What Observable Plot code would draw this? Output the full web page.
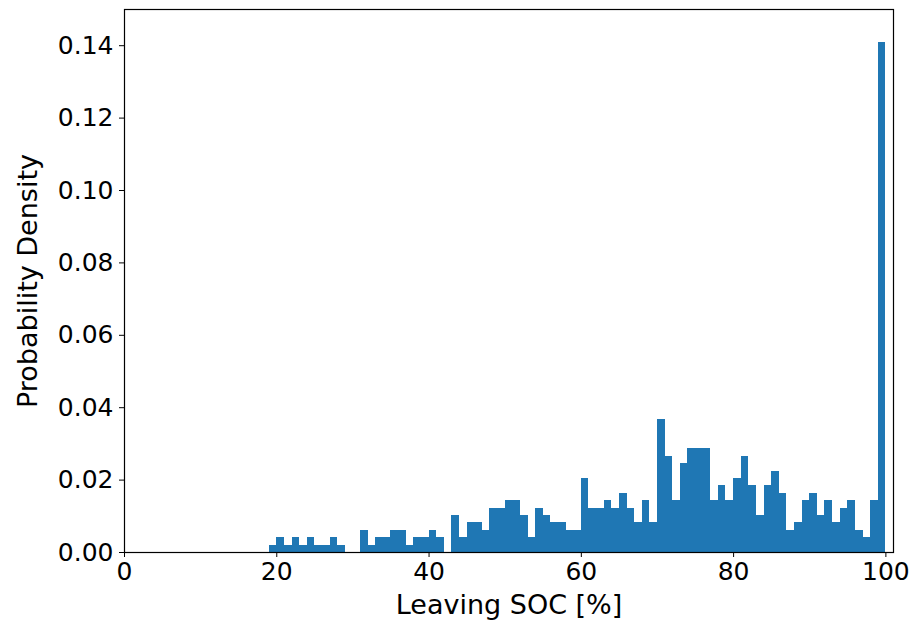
<!DOCTYPE html>
<html>
<head>
<meta charset="utf-8">
<script src="https://cdn.jsdelivr.net/npm/d3@7"></script>
<script src="https://cdn.jsdelivr.net/npm/@observablehq/plot@0.6"></script>
<style>
  html, body { margin: 0; padding: 0; background: #fff; }
  #chart svg { display: block; }
</style>
</head>
<body>
<div id="chart"></div>
<script>
// Histogram bins (lower edge of each 1-unit-wide bin, Leaving SOC in %)
const binStart = [19,20,21,22,23,24,25,26,27,28,29,30,31,32,33,34,35,36,37,38,39,40,
  41,42,43,44,45,46,47,48,49,50,51,52,53,54,55,56,57,58,59,60,61,62,63,64,65,66,67,68,
  69,70,71,72,73,74,75,76,77,78,79,80,81,82,83,84,85,86,87,88,89,90,91,92,93,94,95,96,
  97,98,99];
const binWidth = 1;
// Probability density of each bin
const density = [
  0.0020,0.0041,0.0020,0.0041,0.0020,0.0041,0.0020,0.0020,0.0041,0.0020, // 19-28
  0.0000,0.0000,0.0061,0.0020,0.0041,0.0041,0.0061,0.0061,0.0020,0.0041, // 29-38
  0.0041,0.0061,0.0041,0.0000,0.0102,0.0041,0.0082,0.0082,0.0061,0.0122, // 39-48
  0.0122,0.0143,0.0143,0.0102,0.0041,0.0122,0.0102,0.0082,0.0082,0.0061, // 49-58
  0.0061,0.0204,0.0122,0.0122,0.0143,0.0122,0.0163,0.0122,0.0082,0.0143, // 59-68
  0.0082,0.0367,0.0265,0.0143,0.0245,0.0286,0.0286,0.0286,0.0143,0.0184, // 69-78
  0.0143,0.0204,0.0265,0.0184,0.0102,0.0184,0.0224,0.0163,0.0061,0.0082, // 79-88
  0.0143,0.0163,0.0102,0.0143,0.0082,0.0122,0.0143,0.0061,0.0041,0.0143, // 89-98
  0.1408                                                                 // 99
];
const xTicks = [0, 20, 40, 60, 80, 100];
const yTicks = [0, 0.02, 0.04, 0.06, 0.08, 0.10, 0.12, 0.14];
const xLabel = "Leaving SOC [%]";
const yLabel = "Probability Density";

const bins = binStart.map((x, i) => ({x1: x, x2: x + binWidth, y: density[i]}));

const chart = Plot.plot({
  width: 912,
  height: 628,
  marginLeft: 124,
  marginRight: 19,
  marginTop: 9,
  marginBottom: 76,
  style: {fontFamily: "DejaVu Sans, sans-serif", fontSize: "25px", color: "#000", background: "#fff"},
  x: {domain: [0, 101]},
  y: {domain: [0, 0.150]},
  marks: [
    Plot.rectY(bins, {x1: "x1", x2: "x2", y: "y", fill: "#1f77b4", inset: 0, shapeRendering: "crispEdges"}),
    Plot.axisX({ticks: xTicks, tickSize: 5, tickPadding: 5, label: null, fontSize: 25, tickFormat: d => String(d)}),
    Plot.axisY({ticks: yTicks, tickSize: 5, tickPadding: 6, label: null, fontSize: 25, tickFormat: d3.format(".2f")}),
    Plot.frame({stroke: "#000", strokeWidth: 1.2}),
    Plot.text([xLabel], {text: d => d, frameAnchor: "bottom", textAnchor: "middle", dy: 61, fontSize: 27, fill: "#000"}),
    Plot.text([yLabel], {text: d => d, frameAnchor: "left", textAnchor: "middle", rotate: -90, dx: -96, fontSize: 27, fill: "#000"})
  ]
});
document.getElementById("chart").appendChild(chart);
</script>
</body>
</html>
